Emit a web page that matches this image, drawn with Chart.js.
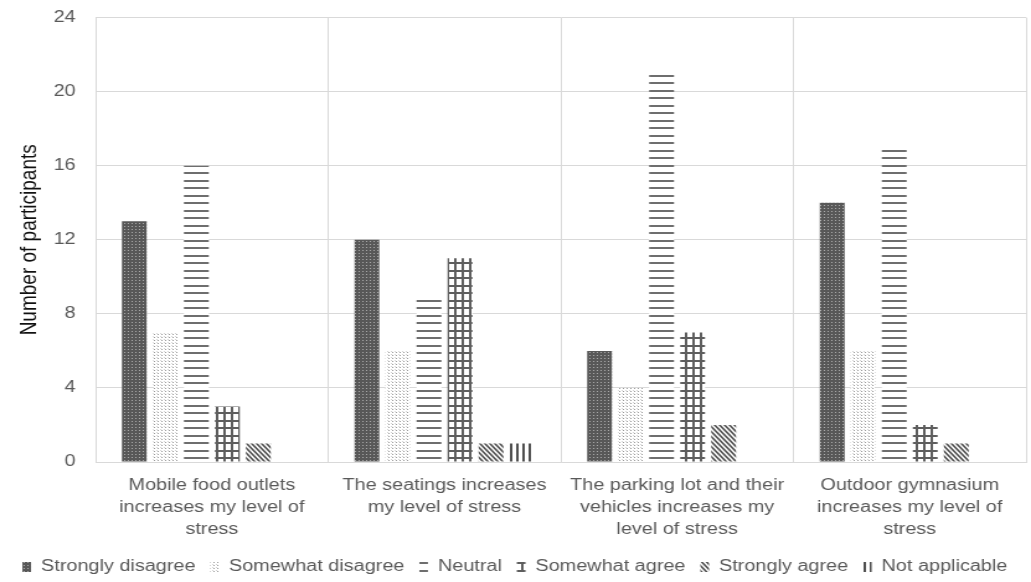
<!DOCTYPE html>
<html lang="en">
<head>
  <meta charset="UTF-8">
  <title>Stress survey chart</title>
  <script src="https://cdn.jsdelivr.net/npm/chart.js@4.4.1/dist/chart.umd.min.js"></script>
  <style>
    html, body { margin: 0; padding: 0; background: #fff; overflow: hidden; }
  </style>
</head>
<body>
  <!-- the source picture is stretched sideways, so the canvas is drawn narrow and stretched too -->
  <canvas id="chart" width="831" height="582" style="width:1031px;height:582px;display:block"></canvas>
  <script>
    const categories = [
      ['Mobile food outlets', 'increases my level of', 'stress'],
      ['The seatings increases', 'my level of stress'],
      ['The parking lot and their', 'vehicles increases my', 'level of stress'],
      ['Outdoor gymnasium', 'increases my level of', 'stress']
    ];
    const seriesNames = ['Strongly disagree', 'Somewhat disagree', 'Neutral', 'Somewhat agree', 'Strongly agree', 'Not applicable'];
    const stronglyDisagree = [13, 12, 6, 14];
    const somewhatDisagree = [7, 6, 4, 6];
    const neutral = [16, 9, 21, 17];
    const somewhatAgree = [3, 11, 7, 2];
    const stronglyAgree = [1, 1, 2, 1];
    const notApplicable = [0, 1, 0, 0];
    const yTicks = [0, 4, 8, 12, 16, 20, 24];

    // small canvas patterns to imitate the grey hatch fills
    function makePattern(w, h, draw) {
      const c = document.createElement('canvas');
      c.width = w; c.height = h;
      const g = c.getContext('2d');
      g.fillStyle = '#fff';
      g.fillRect(0, 0, w, h);
      draw(g, w, h);
      return g.createPattern(c, 'repeat');
    }

    const patterns = [
      makePattern(3, 3, (g) => {
        g.fillStyle = '#585858'; g.fillRect(0, 0, 3, 3);
        g.fillStyle = '#ababab'; g.fillRect(1, 1, 1, 1);
      }),
      makePattern(3, 3, (g) => {
        g.fillStyle = '#9a9a9a'; g.fillRect(1, 1, 1, 1);
        g.fillStyle = '#d4d4d4'; g.fillRect(0, 0, 1, 1);
      }),
      makePattern(8, 15, (g) => {
        g.fillStyle = '#6e6e6e'; g.fillRect(0, 0, 8, 2); g.fillRect(0, 7, 8, 2);
      }),
      makePattern(12, 15, (g) => {
        g.fillStyle = '#5e5e5e';
        g.fillRect(0, 0, 12, 2); g.fillRect(0, 7, 12, 2);
        g.fillRect(0, 0, 2, 15); g.fillRect(6, 0, 2, 15);
      }),
      makePattern(4, 5, (g, w, h) => {
        g.strokeStyle = '#4f4f4f'; g.lineWidth = 1.6;
        g.beginPath();
        for (let k = -1; k <= 1; k++) {
          g.moveTo(k * w - w, -h); g.lineTo(k * w + 2 * w, 2 * h);
        }
        g.stroke();
      }),
      makePattern(5, 6, (g) => {
        g.fillStyle = '#4f4f4f'; g.fillRect(1, 0, 2, 6);
      })
    ];

    const allValues = [stronglyDisagree, somewhatDisagree, neutral, somewhatAgree, stronglyAgree, notApplicable];

    const ctx = document.getElementById('chart').getContext('2d');
    new Chart(ctx, {
      type: 'bar',
      data: {
        labels: categories,
        datasets: seriesNames.map((name, i) => ({
          label: name,
          data: allValues[i],
          backgroundColor: patterns[i],
          borderWidth: 0,
          categoryPercentage: 0.8,
          barPercentage: 0.8
        }))
      },
      options: {
        responsive: false,
        devicePixelRatio: 1,
        animation: false,
        layout: { padding: { top: 0, right: 4, left: 3, bottom: -3 } },
        plugins: {
          tooltip: { enabled: false },
          legend: {
            position: 'bottom',
            labels: {
              boxWidth: 7,
              boxHeight: 10,
              padding: 12,
              color: '#595959',
              font: { family: 'Liberation Sans', size: 16 }
            }
          }
        },
        scales: {
          x: {
            afterFit: (axis) => { axis.height = 85; },
            grid: { color: '#d9d9d9', drawTicks: false },
            border: { color: '#d9d9d9' },
            ticks: {
              color: '#595959',
              padding: 12,
              maxRotation: 0,
              font: { family: 'Liberation Sans', size: 16, lineHeight: 1.4 }
            }
          },
          y: {
            min: 0,
            max: 24,
            afterBuildTicks: (axis) => { axis.ticks = yTicks.map(v => ({ value: v })); },
            afterFit: (axis) => { axis.width = 74; },
            grid: { color: '#d9d9d9', drawTicks: false },
            border: { color: '#d9d9d9' },
            ticks: {
              color: '#595959',
              padding: 16,
              font: { family: 'Liberation Sans', size: 16, lineHeight: 0.2 }
            },
            title: {
              display: true,
              text: 'Number of participants',
              color: '#111',
              padding: 9,
              font: { family: 'Liberation Sans', size: 19 }
            }
          }
        }
      }
    });
  </script>
</body>
</html>
